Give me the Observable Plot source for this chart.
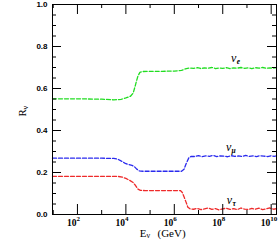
<!DOCTYPE html>
<html>
<head>
<meta charset="utf-8">
<script src="https://cdn.jsdelivr.net/npm/d3@7"></script>
<script src="https://cdn.jsdelivr.net/npm/@observablehq/plot@0.6"></script>
<style>
  html, body { margin: 0; padding: 0; background: #fff; }
  svg { display: block; }
</style>
</head>
<body>
<div id="chart"></div>
<script>
// log10(E/GeV) and R values for each flavour
const eLog = [0.97, 2.0, 3.0, 3.5, 3.8, 4.0, 4.19, 4.3, 4.38, 4.45, 4.5, 4.58, 4.7, 5.0, 5.5, 6.0, 6.3, 6.45, 6.6, 6.8, 6.95, 7.1, 7.25, 7.4, 7.55, 7.7, 7.85, 8.0, 8.15, 8.3, 8.45, 8.6, 8.75, 8.9, 9.05, 9.2, 9.35, 9.5, 9.65, 9.8, 9.95, 10.1, 10.22];
const eVal = [0.551, 0.551, 0.549, 0.546, 0.548, 0.555, 0.563, 0.578, 0.61, 0.64, 0.66, 0.677, 0.681, 0.682, 0.682, 0.683, 0.686, 0.693, 0.697, 0.696, 0.699, 0.695, 0.698, 0.697, 0.700, 0.695, 0.698, 0.696, 0.699, 0.695, 0.698, 0.697, 0.700, 0.696, 0.698, 0.695, 0.699, 0.697, 0.700, 0.696, 0.698, 0.697, 0.699];

const muLog = [0.97, 3.0, 3.5, 3.65, 3.8, 3.95, 4.1, 4.25, 4.35, 4.45, 4.55, 4.7, 5.5, 6.3, 6.4, 6.5, 6.6, 6.7, 6.85, 7.0, 7.15, 7.3, 7.45, 7.6, 7.75, 7.9, 8.05, 8.2, 8.35, 8.5, 8.65, 8.8, 8.95, 9.1, 9.25, 9.4, 9.55, 9.7, 9.85, 10.0, 10.12, 10.22];
const muVal = [0.268, 0.268, 0.267, 0.264, 0.255, 0.245, 0.238, 0.234, 0.228, 0.216, 0.208, 0.206, 0.206, 0.206, 0.215, 0.245, 0.270, 0.277, 0.276, 0.280, 0.276, 0.279, 0.277, 0.281, 0.276, 0.279, 0.278, 0.275, 0.280, 0.277, 0.279, 0.276, 0.281, 0.277, 0.279, 0.276, 0.280, 0.278, 0.276, 0.280, 0.277, 0.279];

const tauLog = [0.97, 3.0, 3.7, 3.85, 4.0, 4.15, 4.3, 4.4, 4.5, 4.6, 4.8, 5.5, 6.25, 6.33, 6.4, 6.48, 6.56, 6.65, 6.8, 6.95, 7.1, 7.25, 7.4, 7.55, 7.7, 7.85, 8.0, 8.15, 8.3, 8.45, 8.6, 8.75, 8.9, 9.05, 9.2, 9.35, 9.5, 9.65, 9.8, 9.95, 10.1, 10.22];
const tauVal = [0.182, 0.182, 0.181, 0.178, 0.172, 0.163, 0.152, 0.138, 0.121, 0.115, 0.114, 0.114, 0.114, 0.105, 0.085, 0.060, 0.035, 0.027, 0.025, 0.029, 0.023, 0.027, 0.031, 0.024, 0.028, 0.022, 0.027, 0.030, 0.024, 0.028, 0.023, 0.031, 0.026, 0.024, 0.029, 0.025, 0.030, 0.023, 0.027, 0.031, 0.025, 0.028];

const series = ["e", "mu", "tau"];
const seriesColors = ["#22dd22", "#2a2aee", "#ee2a2a"];
const seriesNames = ["e", "μ", "τ"];
// label anchors (log10 E, R)
const labelLog = [8.45, 8.24, 8.28];
const labelR = [0.743, 0.32, 0.067];

const xMajor = [2, 4, 6, 8, 10];
const xMinor = [1, 3, 5, 7, 9];
const yMajor = [0, 0.2, 0.4, 0.6, 0.8, 1.0];
const yMinor = [0.05, 0.1, 0.15, 0.25, 0.3, 0.35, 0.45, 0.5, 0.55, 0.65, 0.7, 0.75, 0.85, 0.9, 0.95];

const rows = [
  ...eLog.map((l, i) => ({E: 10 ** l, R: eVal[i], s: "e"})),
  ...muLog.map((l, i) => ({E: 10 ** l, R: muVal[i], s: "mu"})),
  ...tauLog.map((l, i) => ({E: 10 ** l, R: tauVal[i], s: "tau"}))
];
const labels = series.map((s, i) => ({E: 10 ** labelLog[i], R: labelR[i], sub: seriesNames[i]}));

const W = 280, H = 242, mL = 52, mR = 4, mT = 4, mB = 28;
const fw = W - mL - mR, fh = H - mT - mB;
const serif = "'Liberation Serif', 'DejaVu Serif', serif";
const sans = "'Liberation Sans', Arial, sans-serif";

const chart = Plot.plot({
  width: W, height: H,
  marginLeft: mL, marginRight: mR, marginTop: mT, marginBottom: mB,
  x: {type: "log", domain: [10 ** 0.97, 10 ** 10.22], axis: null},
  y: {domain: [0, 1], axis: null},
  color: {domain: series, range: seriesColors},
  style: {background: "white"},
  marks: [
    Plot.line(rows, {x: "E", y: "R", z: "s", stroke: "s", strokeWidth: 1.3, strokeDasharray: "4,2", curve: "linear"}),
    Plot.frame({stroke: "black", strokeWidth: 1}),
    // ticks, inward on all sides
    Plot.tickX(xMajor, {x: d => 10 ** d, insetTop: fh - 10, stroke: "black"}),
    Plot.tickX(xMajor, {x: d => 10 ** d, insetBottom: fh - 10, stroke: "black"}),
    Plot.tickX(xMinor, {x: d => 10 ** d, insetTop: fh - 4, stroke: "black"}),
    Plot.tickX(xMinor, {x: d => 10 ** d, insetBottom: fh - 4, stroke: "black"}),
    Plot.tickY(yMajor, {y: d => d, insetRight: fw - 9, stroke: "black"}),
    Plot.tickY(yMajor, {y: d => d, insetLeft: fw - 9, stroke: "black"}),
    Plot.tickY(yMinor, {y: d => d, insetRight: fw - 4, stroke: "black"}),
    Plot.tickY(yMinor, {y: d => d, insetLeft: fw - 4, stroke: "black"}),
    // y tick labels
    Plot.text(yMajor, {y: d => d, text: d => d3.format(".1f")(d), frameAnchor: "left", textAnchor: "end", dx: -5, fontSize: 8, fontWeight: "bold", fontFamily: sans, fill: "black"}),
    // x tick labels 10^n
    Plot.text(xMajor, {x: d => 10 ** d, text: () => "10", frameAnchor: "bottom", textAnchor: "end", lineAnchor: "middle", dx: -1, dy: 8, fontSize: 9.5, fontWeight: "bold", fontFamily: serif, fill: "black"}),
    Plot.text(xMajor, {x: d => 10 ** d, text: d => String(d), frameAnchor: "bottom", textAnchor: "start", lineAnchor: "middle", dx: -1, dy: 4, fontSize: 7, fontWeight: "bold", fontFamily: serif, fill: "black"}),
    // axis titles
    Plot.text(["E"], {text: d => d, frameAnchor: "bottom", textAnchor: "end", lineAnchor: "middle", dx: -18, dy: 19, fontSize: 11, fontFamily: serif, fill: "black"}),
    Plot.text(["ν"], {text: d => d, frameAnchor: "bottom", textAnchor: "start", lineAnchor: "middle", dx: -18, dy: 21, fontSize: 8, fontFamily: serif, fill: "black"}),
    Plot.text(["(GeV)"], {text: d => d, frameAnchor: "bottom", textAnchor: "start", lineAnchor: "middle", dx: -7, dy: 19, fontSize: 11, fontFamily: serif, fill: "black"}),
    Plot.text(["R"], {text: d => d, frameAnchor: "left", rotate: -90, textAnchor: "start", lineAnchor: "middle", dx: -30, dy: 7, fontSize: 11, fontFamily: serif, fill: "black"}),
    Plot.text(["ν"], {text: d => d, frameAnchor: "left", rotate: -90, textAnchor: "start", lineAnchor: "middle", dx: -27, dy: 0, fontSize: 8, fontFamily: serif, fill: "black"}),
    // curve labels
    Plot.text(labels, {x: "E", y: "R", text: () => "ν", textAnchor: "middle", lineAnchor: "middle", fontSize: 12, fontStyle: "italic", fontFamily: serif, fill: "black"}),
    Plot.text(labels, {x: "E", y: "R", text: "sub", textAnchor: "start", lineAnchor: "middle", dx: 3, dy: 3, fontSize: 7.5, fontWeight: "bold", fontStyle: "italic", fontFamily: serif, fill: "black"})
  ]
});
document.getElementById("chart").appendChild(chart);
</script>
</body>
</html>
